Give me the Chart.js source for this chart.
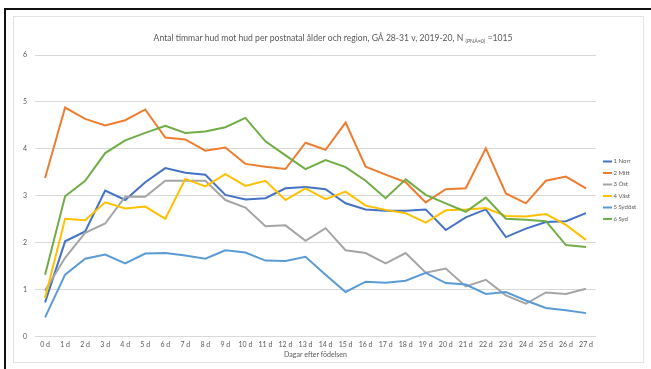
<!DOCTYPE html>
<html>
<head>
<meta charset="utf-8">
<script src="https://cdn.jsdelivr.net/npm/chart.js@4/dist/chart.umd.min.js"></script>
<style>
  html, body { margin: 0; padding: 0; background: #ffffff; }
  #wrap { position: relative; width: 651px; height: 369px; }
</style>
</head>
<body>
<div id="wrap"><canvas id="c" width="651" height="369"></canvas></div>
<script>
// Days after birth
const days = ['0 d','1 d','2 d','3 d','4 d','5 d','6 d','7 d','8 d','9 d','10 d','11 d','12 d','13 d',
              '14 d','15 d','16 d','17 d','18 d','19 d','20 d','21 d','22 d','23 d','24 d','25 d','26 d','27 d'];

// Hours of skin-to-skin contact per region
const norr   = [0.73,2.03,2.24,3.11,2.91,3.29,3.59,3.49,3.45,3.02,2.92,2.95,3.16,3.19,3.14,2.84,2.71,2.68,2.68,2.71,2.27,2.54,2.71,2.12,2.30,2.44,2.46,2.63];
const mitt   = [3.38,4.88,4.64,4.50,4.61,4.84,4.24,4.20,3.96,4.03,3.68,3.62,3.57,4.13,3.98,4.56,3.62,3.45,3.29,2.86,3.14,3.16,4.01,3.05,2.84,3.32,3.41,3.16];
const ost    = [0.98,1.68,2.21,2.41,2.98,2.98,3.32,3.32,3.32,2.91,2.75,2.35,2.37,2.04,2.31,1.84,1.78,1.56,1.78,1.36,1.45,1.07,1.21,0.88,0.70,0.94,0.91,1.02];
const vast   = [0.82,2.51,2.48,2.86,2.73,2.77,2.51,3.36,3.20,3.46,3.21,3.32,2.91,3.16,2.93,3.09,2.79,2.70,2.63,2.43,2.69,2.71,2.74,2.57,2.56,2.61,2.38,2.06];
const sydost = [0.41,1.32,1.66,1.75,1.56,1.77,1.78,1.73,1.66,1.84,1.79,1.62,1.61,1.70,1.32,0.95,1.17,1.15,1.19,1.36,1.14,1.11,0.91,0.95,0.77,0.61,0.56,0.50];
const syd    = [1.32,2.99,3.32,3.91,4.18,4.34,4.49,4.34,4.37,4.46,4.66,4.16,3.86,3.57,3.76,3.61,3.32,2.95,3.35,3.02,2.84,2.66,2.96,2.51,2.49,2.46,1.95,1.91];

const regionNames = ['1 Norr','2 Mitt','3 Öst','4 Väst','5 Sydöst','6 Syd'];
const regionValues = [norr, mitt, ost, vast, sydost, syd];
const regionColors = ['#4472C4','#ED7D31','#A5A5A5','#FFC000','#5B9BD5','#70AD47'];

const FONT = 'Lato, "Open Sans", sans-serif';
const TEXT = '#595959';

// Page frame: dark top/left edges and a light inner border
const framePlugin = {
  id: 'frame',
  beforeDraw(chart) {
    const ctx = chart.ctx;
    ctx.save();
    ctx.fillStyle = '#ffffff';
    ctx.fillRect(0, 0, chart.width, chart.height);
    ctx.fillStyle = '#111111';
    ctx.fillRect(4, 8, chart.width - 4, 2);
    ctx.fillRect(4, 8, 2, chart.height - 8);
    ctx.strokeStyle = '#e3e3e3';
    ctx.lineWidth = 1;
    ctx.strokeRect(13.5, 16.5, 630, 346);
    ctx.restore();
  }
};

// Title with a subscript part, plus the x-axis caption
const titlePlugin = {
  id: 'subTitle',
  afterDraw(chart) {
    const ctx = chart.ctx;
    const parts = [
      { t: 'Antal timmar hud mot hud per postnatal ålder och region, GÅ 28-31 v, 2019-20, N ', size: 8.6, dy: 0 },
      { t: '(PNÅ=0)', size: 5.3, dy: 2 },
      { t: ' =1015', size: 8.6, dy: 0 }
    ];
    ctx.save();
    let total = 0;
    parts.forEach(p => { ctx.font = p.size + 'px ' + FONT; p.w = ctx.measureText(p.t).width; total += p.w; });
    let x = 333 - total / 2;
    ctx.fillStyle = TEXT;
    ctx.textBaseline = 'alphabetic';
    parts.forEach(p => {
      ctx.font = p.size + 'px ' + FONT;
      ctx.fillText(p.t, x, 41 + p.dy);
      x += p.w;
    });
    const area = chart.chartArea;
    ctx.font = '7px ' + FONT;
    ctx.textAlign = 'center';
    ctx.textBaseline = 'middle';
    ctx.fillText('Dagar efter födelsen', (area.left + area.right) / 2, 355);
    ctx.restore();
  }
};

// Legend on the right with short line samples
const legendPlugin = {
  id: 'sideLegend',
  afterDraw(chart) {
    const ctx = chart.ctx;
    ctx.save();
    ctx.font = '6px ' + FONT;
    ctx.textBaseline = 'middle';
    chart.data.datasets.forEach((ds, i) => {
      const y = 161.5 + i * 11.5;
      ctx.strokeStyle = ds.borderColor;
      ctx.lineWidth = 2;
      ctx.beginPath();
      ctx.moveTo(603, y);
      ctx.lineTo(612, y);
      ctx.stroke();
      ctx.fillStyle = TEXT;
      ctx.fillText(ds.label, 613.5, y);
    });
    ctx.restore();
  }
};

new Chart(document.getElementById('c'), {
  type: 'line',
  data: {
    labels: days,
    datasets: regionNames.map((name, i) => ({
      label: name,
      data: regionValues[i],
      borderColor: regionColors[i],
      backgroundColor: regionColors[i],
      borderWidth: 2,
      pointRadius: 0,
      tension: 0,
      fill: false,
      order: regionNames.length - 1 - i
    }))
  },
  options: {
    responsive: false,
    animation: false,
    devicePixelRatio: 1,
    layout: { padding: { left: 15, right: 55, top: 55, bottom: 16 } },
    plugins: {
      legend: { display: false },
      title: { display: false },
      tooltip: { enabled: false }
    },
    scales: {
      x: {
        offset: true,
        grid: { display: false, drawTicks: false },
        border: { display: false },
        ticks: { color: TEXT, font: { family: FONT, size: 7 }, padding: 4, maxRotation: 0, autoSkip: false }
      },
      y: {
        min: 0,
        max: 6,
        grid: { color: '#d9d9d9', lineWidth: 1, drawTicks: false },
        border: { display: false },
        ticks: { stepSize: 1, color: TEXT, font: { family: FONT, size: 7 }, padding: 8 }
      }
    }
  },
  plugins: [framePlugin, titlePlugin, legendPlugin]
});
</script>
</body>
</html>
